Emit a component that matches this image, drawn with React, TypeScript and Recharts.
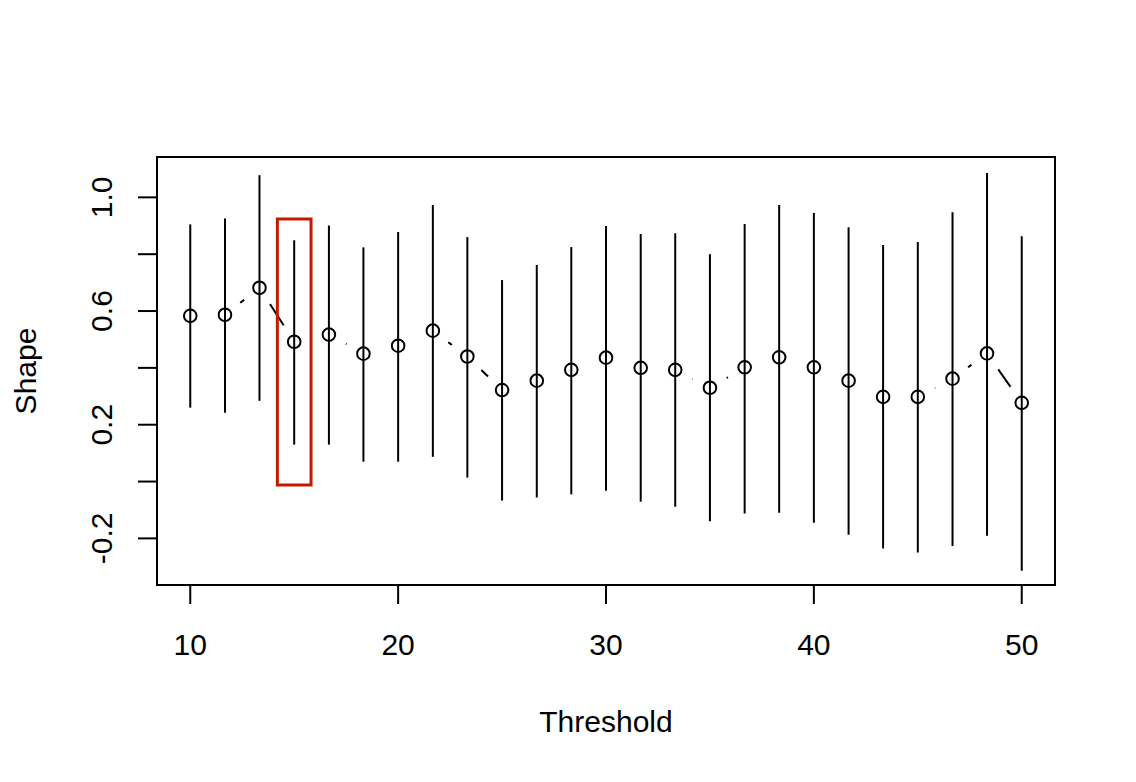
import React from "react";
import {
  ComposedChart,
  Line,
  Scatter,
  ErrorBar,
  XAxis,
  YAxis,
  ReferenceArea,
} from "recharts";

// threshold grid and fitted shape with interval bounds
const thresholds = [
  10, 11.67, 13.33, 15, 16.67, 18.33, 20, 21.67, 23.33, 25, 26.67, 28.33, 30,
  31.67, 33.33, 35, 36.67, 38.33, 40, 41.67, 43.33, 45, 46.67, 48.33, 50,
];
const shapeValues = [
  0.583, 0.587, 0.682, 0.492, 0.517, 0.45, 0.478, 0.531, 0.44, 0.322, 0.355,
  0.393, 0.436, 0.4, 0.393, 0.33, 0.402, 0.437, 0.402, 0.355, 0.298, 0.298,
  0.362, 0.451, 0.277,
];
const upperValues = [
  0.905, 0.926, 1.078, 0.849, 0.901, 0.824, 0.878, 0.973, 0.86, 0.709, 0.762,
  0.825, 0.899, 0.871, 0.874, 0.8, 0.906, 0.973, 0.945, 0.895, 0.832, 0.843,
  0.948, 1.086, 0.863,
];
const lowerValues = [
  0.26, 0.242, 0.284, 0.13, 0.13, 0.07, 0.07, 0.087, 0.014, -0.067, -0.056,
  -0.045, -0.032, -0.071, -0.089, -0.14, -0.112, -0.11, -0.145, -0.187, -0.236,
  -0.25, -0.227, -0.191, -0.314,
];

const xTicks = [10, 20, 30, 40, 50];
const yTicks = [-0.2, 0, 0.2, 0.4, 0.6, 0.8, 1.0];
const yLabelled = [-0.2, 0.2, 0.6, 1.0];

// highlighted threshold
const highlight = { x1: 14.19, x2: 15.81, y1: -0.012, y2: 0.924 };

const data = thresholds.map((t, i) => ({
  threshold: t,
  shape: shapeValues[i],
  err: [shapeValues[i] - lowerValues[i], upperValues[i] - shapeValues[i]],
}));

const FONT = "'Liberation Sans', Arial, sans-serif";
const X_DOMAIN = [8.4, 51.6];
const Y_DOMAIN = [-0.364, 1.142];

const XTick = ({ x, payload }: any) => (
  <text x={x} y={655} textAnchor="middle" fontSize={30} fontFamily={FONT} fill="#000">
    {payload.value}
  </text>
);

const YTick = ({ y, payload }: any) => {
  const v = Math.round(payload.value * 10) / 10;
  if (!yLabelled.some((l) => Math.abs(l - v) < 1e-6)) return null;
  return (
    <text
      x={112}
      y={y}
      transform={`rotate(-90, 112, ${y})`}
      textAnchor="middle"
      fontSize={30}
      fontFamily={FONT}
      fill="#000"
    >
      {v.toFixed(1)}
    </text>
  );
};

const OpenCircle = ({ cx, cy }: any) => (
  <circle cx={cx} cy={cy} r={6.3} fill="none" stroke="#000" strokeWidth={2} />
);

export default function App() {
  return (
    <div style={{ position: "absolute", left: 0, top: 0, background: "#fff" }}>
      <ComposedChart
        width={1136}
        height={782}
        data={data}
        margin={{ top: 157, right: 81, bottom: 0, left: 0 }}
      >
        <XAxis
          dataKey="threshold"
          type="number"
          domain={X_DOMAIN}
          ticks={xTicks}
          interval={0}
          allowDataOverflow
          height={197}
          axisLine={false}
          tickSize={19}
          tickLine={{ stroke: "#000", strokeWidth: 2 }}
          tick={<XTick />}
          label={{
            content: () => (
              <text x={606} y={732} textAnchor="middle" fontSize={30} fontFamily={FONT} fill="#000">
                Threshold
              </text>
            ),
          }}
        />
        <YAxis
          type="number"
          domain={Y_DOMAIN}
          ticks={yTicks}
          interval={0}
          allowDataOverflow
          width={157}
          axisLine={false}
          tickSize={19}
          tickLine={{ stroke: "#000", strokeWidth: 2 }}
          tick={<YTick />}
          label={{
            content: () => (
              <text
                x={36}
                y={371}
                transform="rotate(-90, 36, 371)"
                textAnchor="middle"
                fontSize={30}
                fontFamily={FONT}
                fill="#000"
              >
                Shape
              </text>
            ),
          }}
        />
        {/* type "b" line: white dots mask the segment near each point */}
        <Line
          dataKey="shape"
          stroke="#000"
          strokeWidth={2}
          dot={{ r: 19.5, fill: "#fff", stroke: "none" }}
          activeDot={false}
          isAnimationActive={false}
          zIndex={100}
        />
        <Scatter dataKey="shape" shape={<OpenCircle />} isAnimationActive={false} zIndex={700}>
          <ErrorBar dataKey="err" direction="y" width={0} stroke="#000" strokeWidth={2} zIndex={700} />
        </Scatter>
        <ReferenceArea
          x1={highlight.x1}
          x2={highlight.x2}
          y1={highlight.y1}
          y2={highlight.y2}
          fill="none"
          stroke="#c41a00"
          strokeWidth={3}
          ifOverflow="visible"
          zIndex={800}
        />
        <ReferenceArea
          x1={X_DOMAIN[0]}
          x2={X_DOMAIN[1]}
          y1={Y_DOMAIN[0]}
          y2={Y_DOMAIN[1]}
          fill="none"
          stroke="#000"
          strokeWidth={2}
          ifOverflow="visible"
          zIndex={800}
        />
      </ComposedChart>
    </div>
  );
}
